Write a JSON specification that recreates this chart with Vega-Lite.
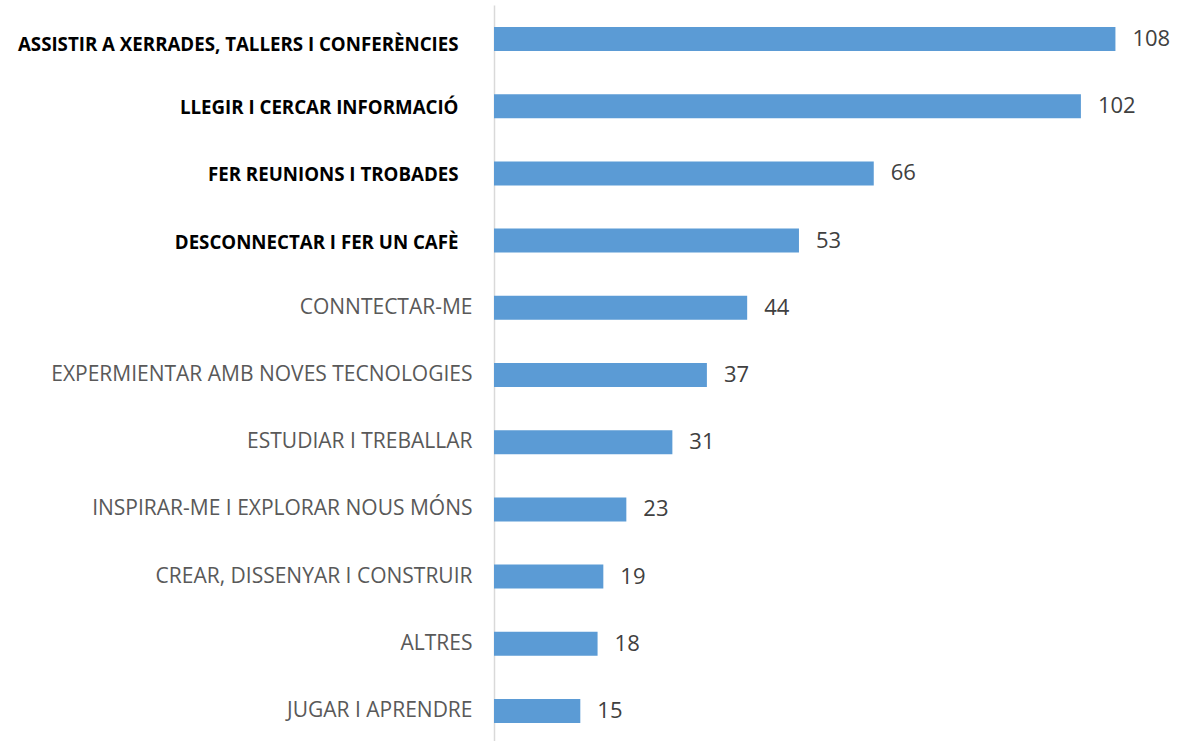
{
  "$schema": "https://vega.github.io/schema/vega-lite/v6.json",
  "autosize": {"type": "none"},
  "padding": {"left": 494, "top": 5, "right": 0, "bottom": 0},
  "width": 683,
  "height": 736,
  "background": "white",
  "config": {"view": {"stroke": null}},
  "data": {
    "values": [
      {"activitat": "ASSISTIR A XERRADES, TALLERS I CONFERÈNCIES", "n": 108},
      {"activitat": "LLEGIR I CERCAR INFORMACIÓ", "n": 102},
      {"activitat": "FER REUNIONS I TROBADES", "n": 66},
      {"activitat": "DESCONNECTAR I FER UN CAFÈ", "n": 53},
      {"activitat": "CONNTECTAR-ME", "n": 44},
      {"activitat": "EXPERMIENTAR AMB NOVES TECNOLOGIES", "n": 37},
      {"activitat": "ESTUDIAR I TREBALLAR", "n": 31},
      {"activitat": "INSPIRAR-ME I EXPLORAR NOUS MÓNS", "n": 23},
      {"activitat": "CREAR, DISSENYAR I CONSTRUIR", "n": 19},
      {"activitat": "ALTRES", "n": 18},
      {"activitat": "JUGAR I APRENDRE", "n": 15}
    ]
  },
  "encoding": {
    "y": {
      "field": "activitat",
      "type": "nominal",
      "sort": null,
      "scale": {"paddingInner": 0.643, "paddingOuter": 0.298, "align": 0.55},
      "axis": {
        "title": null,
        "orient": "left",
        "domain": true,
        "domainColor": "#D9D9D9",
        "domainWidth": 1.5,
        "ticks": false,
        "labelLimit": 0,
        "labelFont": "Open Sans",
        "labelFontSize": {
          "condition": {"test": "indexof(['ASSISTIR A XERRADES, TALLERS I CONFERÈNCIES','LLEGIR I CERCAR INFORMACIÓ','FER REUNIONS I TROBADES','DESCONNECTAR I FER UN CAFÈ'], datum.value) >= 0", "value": 18.7},
          "value": 21
        },
        "labelOffset": {
          "condition": [
            {"test": "datum.value == 'ASSISTIR A XERRADES, TALLERS I CONFERÈNCIES'", "value": 6},
            {"test": "indexof(['LLEGIR I CERCAR INFORMACIÓ','FER REUNIONS I TROBADES','DESCONNECTAR I FER UN CAFÈ'], datum.value) >= 0", "value": 2}
          ],
          "value": 0
        },
        "labelPadding": {
          "condition": {"test": "indexof(['ASSISTIR A XERRADES, TALLERS I CONFERÈNCIES','LLEGIR I CERCAR INFORMACIÓ','FER REUNIONS I TROBADES','DESCONNECTAR I FER UN CAFÈ'], datum.value) >= 0", "value": 36},
          "value": 22
        },
        "labelFontWeight": {
          "condition": {"test": "indexof(['ASSISTIR A XERRADES, TALLERS I CONFERÈNCIES','LLEGIR I CERCAR INFORMACIÓ','FER REUNIONS I TROBADES','DESCONNECTAR I FER UN CAFÈ'], datum.value) >= 0", "value": "bold"},
          "value": "normal"
        },
        "labelColor": {
          "condition": {"test": "indexof(['ASSISTIR A XERRADES, TALLERS I CONFERÈNCIES','LLEGIR I CERCAR INFORMACIÓ','FER REUNIONS I TROBADES','DESCONNECTAR I FER UN CAFÈ'], datum.value) >= 0", "value": "#000000"},
          "value": "#595959"
        }
      }
    },
    "x": {
      "field": "n",
      "type": "quantitative",
      "scale": {"domain": [0, 118.7], "nice": false},
      "axis": null
    }
  },
  "layer": [
    {"mark": {"type": "bar", "color": "#5B9BD5"}},
    {
      "mark": {"type": "text", "align": "left", "baseline": "middle", "dx": 17, "font": "Open Sans", "fontSize": 22, "color": "#404040"},
      "encoding": {"text": {"field": "n", "type": "quantitative"}}
    }
  ]
}
